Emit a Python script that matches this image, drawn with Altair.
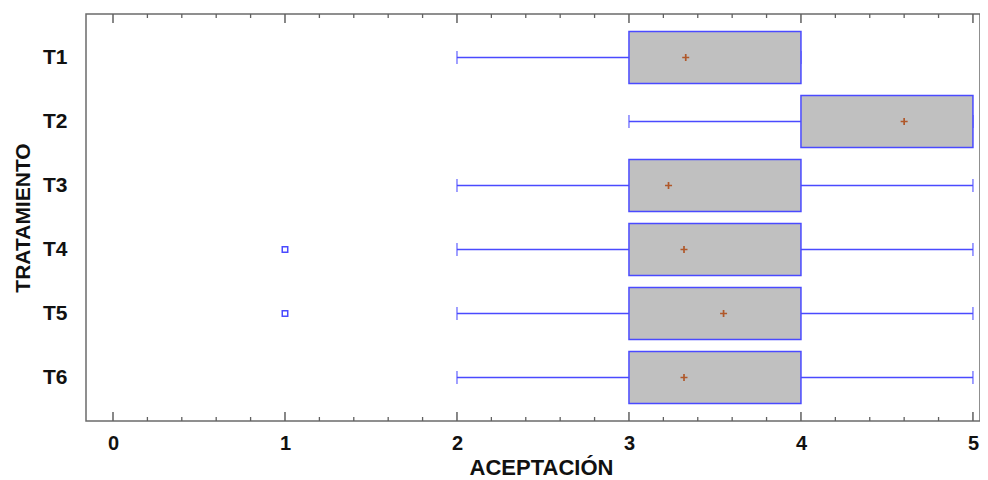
import altair as alt
import pandas as pd

# ---- data ----
treatments = ["T1", "T2", "T3", "T4", "T5", "T6"]
whisker_low = [2, 3, 2, 2, 2, 2]
q1 = [3, 4, 3, 3, 3, 3]
q3 = [4, 5, 4, 4, 4, 4]
whisker_high = [4, 5, 5, 5, 5, 5]
means = [3.33, 4.6, 3.23, 3.32, 3.55, 3.32]
outlier_treatments = ["T4", "T5"]
outlier_values = [1, 1]
major_ticks = [0, 1, 2, 3, 4, 5]
minor_ticks = [0.2, 0.4, 0.6, 0.8, 1.2, 1.4, 1.6, 1.8, 2.2, 2.4, 2.6, 2.8,
               3.2, 3.4, 3.6, 3.8, 4.2, 4.4, 4.6, 4.8]

boxes = pd.DataFrame({
    "t": treatments, "lo": whisker_low, "q1": q1, "q3": q3,
    "hi": whisker_high, "mean": means,
})
outliers = pd.DataFrame({"t": outlier_treatments, "v": outlier_values})
majors = pd.DataFrame({"v": major_ticks})
minors = pd.DataFrame({"v": minor_ticks})

W, H = 894, 407
BLUE = "#4a4aff"
FONT = "Liberation Sans"

xscale = alt.Scale(domain=[-0.157, 5.041], nice=False, zero=False, padding=0)
yscale = alt.Scale(type="point", domain=treatments, padding=0.68)

x_axis = alt.Axis(values=major_ticks, format="d", grid=False, ticks=False, tickSize=0,
                  domain=False,
                  labelFont=FONT, labelFontSize=20, labelFontWeight="bold",
                  labelColor="#111111", labelPadding=12,
                  title="ACEPTACIÓN", titleFont=FONT, titleFontSize=22,
                  titleFontWeight="bold", titleColor="#111111", titlePadding=4,
                  titleX=455)
y_axis = alt.Axis(grid=False, ticks=False, tickSize=0, domain=False,
                  labelFont=FONT, labelFontSize=21, labelFontWeight="bold",
                  labelColor="#111111", labelPadding=19,
                  title="TRATAMIENTO", titleFont=FONT, titleFontSize=21,
                  titleFontWeight="bold", titleColor="#111111", titlePadding=9)

base = alt.Chart(boxes)

whisk_l = base.mark_rule(color=BLUE, strokeWidth=1.5).encode(
    x=alt.X("lo:Q", scale=xscale, axis=x_axis),
    x2="q1:Q",
    y=alt.Y("t:N", scale=yscale, axis=y_axis, sort=treatments),
)
whisk_r = base.mark_rule(color=BLUE, strokeWidth=1.5).encode(
    x=alt.X("q3:Q", scale=xscale), x2="hi:Q",
    y=alt.Y("t:N", scale=yscale, sort=treatments),
)
cap_l = base.mark_tick(color=BLUE, size=13, thickness=1.5).encode(
    x=alt.X("lo:Q", scale=xscale), y=alt.Y("t:N", scale=yscale, sort=treatments),
)
cap_r = base.mark_tick(color=BLUE, size=13, thickness=1.5).encode(
    x=alt.X("hi:Q", scale=xscale), y=alt.Y("t:N", scale=yscale, sort=treatments),
)
box = base.mark_bar(size=52, color="#c0c0c0", stroke=BLUE, strokeWidth=1.5).encode(
    x=alt.X("q1:Q", scale=xscale), x2="q3:Q",
    y=alt.Y("t:N", scale=yscale, sort=treatments),
)
mean_pt = base.mark_point(shape="M-1,0H1M0,-1V1", size=49, stroke="#b0582a",
                          strokeWidth=1.7, filled=False, opacity=1).encode(
    x=alt.X("mean:Q", scale=xscale), y=alt.Y("t:N", scale=yscale, sort=treatments),
)
out_pt = alt.Chart(outliers).mark_point(shape="square", size=30, filled=False,
                                        stroke=BLUE, strokeWidth=1.5, opacity=1).encode(
    x=alt.X("v:Q", scale=xscale), y=alt.Y("t:N", scale=yscale, sort=treatments),
)

TICK = "#606060"
maj_b = alt.Chart(majors).mark_rule(color=TICK, strokeWidth=1.5).encode(
    x=alt.X("v:Q", scale=xscale), y=alt.value(H - 9), y2=alt.value(H))
maj_t = alt.Chart(majors).mark_rule(color=TICK, strokeWidth=1.5).encode(
    x=alt.X("v:Q", scale=xscale), y=alt.value(0), y2=alt.value(9))
min_b = alt.Chart(minors).mark_rule(color=TICK, strokeWidth=1.3).encode(
    x=alt.X("v:Q", scale=xscale), y=alt.value(H - 4), y2=alt.value(H))
min_t = alt.Chart(minors).mark_rule(color=TICK, strokeWidth=1.3).encode(
    x=alt.X("v:Q", scale=xscale), y=alt.value(0), y2=alt.value(4))

chart = alt.layer(
    whisk_l, whisk_r, cap_l, cap_r, box, mean_pt, out_pt,
    maj_b, maj_t, min_b, min_t,
).properties(
    width=W, height=H,
    autosize=alt.AutoSizeParams(type="none"),
    padding={"left": 78, "top": 6, "right": 0, "bottom": 59},
).configure_view(
    stroke="#6b6b6b", strokeWidth=1.5
).configure_scale(
    continuousPadding=0
)

chart.save("out.html", embed_options={"renderer": "svg", "actions": False})
